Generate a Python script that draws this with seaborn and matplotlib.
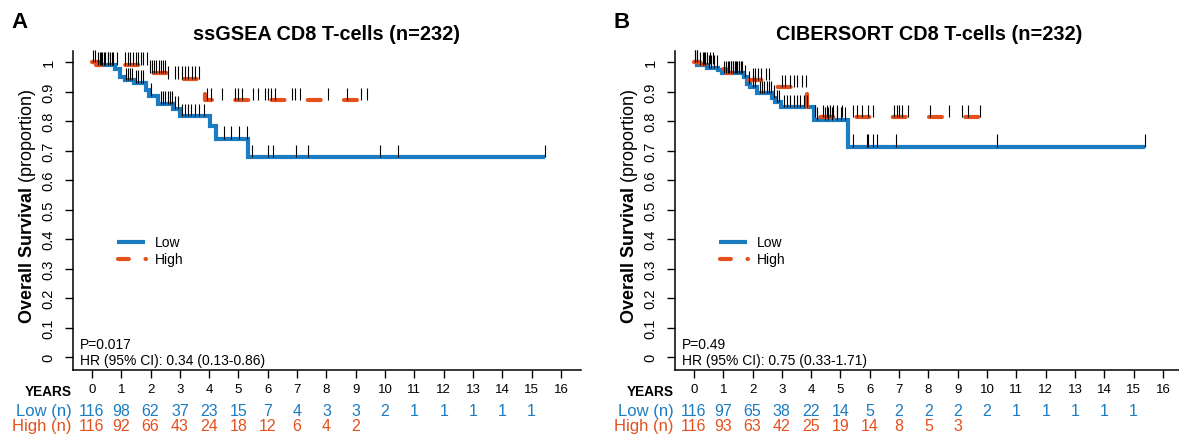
import numpy as np
import pandas as pd
import matplotlib
matplotlib.use("Agg")
import matplotlib.pyplot as plt
import matplotlib.transforms as mtransforms
from matplotlib.lines import Line2D
import seaborn as sns

# ---------------- data ----------------
titles = ["ssGSEA CD8 T-cells (n=232)", "CIBERSORT CD8 T-cells (n=232)"]
panel_labels = ["A", "B"]
p_texts = ["P=0.017", "P=0.49"]
hr_texts = ["HR (95% CI): 0.34 (0.13-0.86)", "HR (95% CI): 0.75 (0.33-1.71)"]
groups = ["Low", "High"]
years = list(range(0, 17))

# Panel A
a_low_time = [0, 0.2, 0.8, 0.97, 1.12, 1.45, 1.83, 1.96, 2.26, 2.77, 3.01, 4.03, 4.22, 5.32, 15.47]
a_low_surv = [1, 0.991, 0.977, 0.951, 0.940, 0.930, 0.907, 0.887, 0.859, 0.842, 0.817, 0.782, 0.741, 0.677, 0.677]
a_high_time = [0, 0.15, 1.92, 2.55, 3.87, 9.37]
a_high_surv = [1, 0.992, 0.964, 0.944, 0.872, 0.872]
a_low_cens = [0.05, 0.12, 0.3, 0.42, 0.55, 0.68,
              1.15, 1.22, 1.3, 1.38, 1.5, 1.58, 1.66, 1.74,
              2.03, 2.35, 2.42, 2.5, 2.58, 2.66, 2.72, 2.85, 2.92,
              3.08, 3.19, 3.28, 3.38, 3.51, 3.66, 3.83,
              4.52, 4.74, 5.03, 5.28,
              5.47, 6.0, 6.18, 6.97, 7.36, 9.83, 10.44, 15.46]
a_high_cens = [0.2, 0.28, 0.35, 0.45, 0.54, 0.62, 0.73, 0.85,
               1.13, 1.22, 1.31, 1.4, 1.49, 1.58, 1.67, 1.75, 1.87,
               1.98, 2.06, 2.13, 2.2, 2.28, 2.35, 2.43, 2.49,
               2.61, 2.83, 2.95, 3.06, 3.18, 3.29, 3.4, 3.52, 3.65,
               3.92, 4.06, 4.45, 4.88, 5.0, 5.11, 5.51, 5.68, 5.91, 5.99, 6.1, 6.25,
               6.82, 6.93, 7.1, 8.07, 8.71, 9.17, 9.37]
a_low_n = [116, 98, 62, 37, 23, 15, 7, 4, 3, 3, 2, 1, 1, 1, 1, 1]
a_high_n = [116, 92, 66, 43, 24, 18, 12, 6, 4, 2]

# Panel B
b_low_time = [0, 0.12, 0.46, 0.83, 0.97, 1.7, 1.82, 1.93, 2.16, 2.67, 2.78, 2.98, 4.08, 5.25, 15.4]
b_low_surv = [1, 0.992, 0.982, 0.974, 0.963, 0.949, 0.927, 0.915, 0.895, 0.879, 0.865, 0.848, 0.805, 0.713, 0.713]
b_high_time = [0, 0.2, 0.85, 1.1, 1.75, 2.6, 3.86, 9.75]
b_high_surv = [1, 0.994, 0.977, 0.963, 0.938, 0.915, 0.814, 0.814]
b_low_cens = [0.05, 0.1, 0.2, 0.3, 0.38, 0.5, 0.6, 0.7, 0.8,
              1.02, 1.1, 1.18, 1.25, 1.32, 1.4, 1.48, 1.55, 1.62,
              1.75, 1.88, 2.0, 2.08,
              2.25, 2.33, 2.4, 2.48, 2.55, 2.62, 2.72, 2.83, 2.9,
              3.06, 3.17, 3.29, 3.4, 3.51, 3.63, 3.74, 3.86,
              4.2, 4.46, 4.59, 4.71, 4.88, 5.02, 5.16,
              5.42, 5.9, 5.95, 6.12, 6.24, 6.89, 10.35, 15.38]
b_high_cens = [0.05, 0.12, 0.35, 0.45, 0.55, 0.65,
               1.15, 1.25, 1.35, 1.45, 1.55, 1.65,
               2.0, 2.1, 2.2, 2.3, 2.45, 2.55,
               3.0, 3.12, 3.29, 3.4, 3.51, 3.69, 3.82,
               4.14, 4.42, 4.54, 4.65, 4.76, 4.88, 5.05, 5.44, 5.56, 5.73, 5.95, 6.12,
               6.83, 6.92, 7.0, 7.11, 7.31, 8.07, 8.71, 9.13, 9.35, 9.75]
b_low_n = [116, 97, 65, 38, 22, 14, 5, 2, 2, 2, 2, 1, 1, 1, 1, 1]
b_high_n = [116, 93, 63, 42, 25, 19, 14, 8, 5, 3]

panels = [
    dict(low_t=a_low_time, low_s=a_low_surv, high_t=a_high_time, high_s=a_high_surv,
         low_c=a_low_cens, high_c=a_high_cens, low_n=a_low_n, high_n=a_high_n),
    dict(low_t=b_low_time, low_s=b_low_surv, high_t=b_high_time, high_s=b_high_surv,
         low_c=b_low_cens, high_c=b_high_cens, low_n=b_low_n, high_n=b_high_n),
]

# ---------------- style ----------------
sns.set_theme(style="ticks")
plt.rcParams['font.family'] = ['Liberation Sans', 'DejaVu Sans']
plt.rcParams['mathtext.fontset'] = 'custom'
plt.rcParams['mathtext.rm'] = 'Liberation Sans'
plt.rcParams['mathtext.bf'] = 'Liberation Sans:bold'
for key in ['text.color', 'axes.labelcolor', 'xtick.color', 'ytick.color', 'axes.edgecolor']:
    plt.rcParams[key] = 'black'

BLUE = "#1b7cc1"
ORANGE = "#e5501c"
LW = 3.0
DASH = (0, (3.1, 5.6))
LEG_DASH = (0, (2.6, 4.0))

W, H = 1179, 439
fig = plt.figure(figsize=(W / 100, H / 100), dpi=100)

ax_left_px = [73, 675]
ax_bottom_px, ax_top_px = 371, 52
ax_w_px = 507.6


def level_at(times, surv, c):
    idx = np.searchsorted(np.asarray(times), np.asarray(c), side="right") - 1
    return np.asarray(surv)[idx]


for k, pdat in enumerate(panels):
    ax = fig.add_axes([ax_left_px[k] / W, (H - ax_bottom_px) / H,
                       ax_w_px / W, (ax_bottom_px - ax_top_px) / H])

    df_low = pd.DataFrame({"time": pdat["low_t"], "surv": pdat["low_s"]})
    df_high = pd.DataFrame({"time": pdat["high_t"], "surv": pdat["high_s"]})
    sns.lineplot(data=df_low, x="time", y="surv", ax=ax, color=BLUE, lw=LW,
                 drawstyle="steps-post", estimator=None, sort=False,
                 solid_capstyle="butt", solid_joinstyle="miter", zorder=3)
    sns.lineplot(data=df_high, x="time", y="surv", ax=ax, color=ORANGE, lw=LW,
                 drawstyle="steps-post", estimator=None, sort=False,
                 linestyle=DASH, dash_capstyle="round", zorder=3)

    # censoring marks
    for tt, ss, cc in [(pdat["low_t"], pdat["low_s"], pdat["low_c"]),
                       (pdat["high_t"], pdat["high_s"], pdat["high_c"])]:
        lv = level_at(tt, ss, cc)
        ax.vlines(cc, lv, lv + 0.042, color="black", lw=0.8, zorder=5, clip_on=False)

    ax.set_xlim(-0.645, 16.67)
    ax.set_ylim(-0.044, 1.038)
    ax.set_xticks(years)
    ax.set_xticklabels([str(y) for y in years])
    yt = np.round(np.arange(0, 1.01, 0.1), 1)
    ax.set_yticks(yt)
    ax.set_yticklabels(["0" if v == 0 else ("1" if v == 1 else f"{v:.1f}") for v in yt])
    ax.set_xlabel("")
    ax.set_ylabel("")
    for sp in ["top", "right"]:
        ax.spines[sp].set_visible(False)
    for sp in ["left", "bottom"]:
        ax.spines[sp].set_linewidth(1.1)
        ax.spines[sp].set_color("black")
    ax.tick_params(axis="both", direction="out", length=6, width=1.0, color="black",
                   bottom=True, left=True, labelcolor="black")
    ax.tick_params(axis="x", labelsize=9.5, pad=3.5)
    ax.tick_params(axis="y", labelsize=10.5, pad=6.5, labelrotation=90)
    for lab in ax.get_yticklabels():
        lab.set_va("center")

    # y label with bold part
    ax.text(-0.0887, 0.517, r"$\mathbf{Overall\ Survival}$ (proportion)", transform=ax.transAxes,
            rotation=90, ha="center", va="center", fontsize=13)

    # title & panel letter
    ax.text(0.5, 1.056, titles[k], transform=ax.transAxes, ha="center", va="center",
            fontsize=14.3, fontweight="bold")
    fig.text((19.5 + 602 * k) / W, (H - 22) / H, panel_labels[k], ha="center", va="center",
             fontsize=16, fontweight="bold")

    # legend (manual)
    fx = lambda px: (px - 73) / ax_w_px
    fy = lambda py: (ax_bottom_px - py) / (ax_bottom_px - ax_top_px)
    ax.add_line(Line2D([fx(117), fx(145)], [fy(243.3)] * 2, transform=ax.transAxes,
                       color=BLUE, lw=LW, solid_capstyle="butt"))
    ax.add_line(Line2D([fx(118), fx(146)], [fy(260)] * 2, transform=ax.transAxes,
                       color=ORANGE, lw=LW, linestyle=LEG_DASH, dash_capstyle="round"))
    ax.text(fx(155), fy(243.3), groups[0], transform=ax.transAxes, ha="left", va="center", fontsize=10)
    ax.text(fx(155), fy(260), groups[1], transform=ax.transAxes, ha="left", va="center", fontsize=10)

    # stats text
    ax.text(fx(80), fy(345), p_texts[k], transform=ax.transAxes, ha="left", va="center", fontsize=10)
    ax.text(fx(80), fy(361), hr_texts[k], transform=ax.transAxes, ha="left", va="center", fontsize=10)

    # risk table
    blend = mtransforms.blended_transform_factory(ax.transData, fig.transFigure)
    ax.text(-0.69, (H - 392) / H, "YEARS", transform=blend, ha="right", va="center",
            fontsize=9.8, fontweight="bold")
    ax.text(-0.69, (H - 411.5) / H, "Low (n)", transform=blend, ha="right", va="center",
            fontsize=12, color=BLUE)
    ax.text(-0.69, (H - 426.5) / H, "High (n)", transform=blend, ha="right", va="center",
            fontsize=12, color=ORANGE)
    for i, n in enumerate(pdat["low_n"]):
        ax.text(years[i], (H - 411.5) / H, str(n), transform=blend, ha="center", va="center",
                fontsize=11.5, color=BLUE)
    for i, n in enumerate(pdat["high_n"]):
        ax.text(years[i], (H - 426.5) / H, str(n), transform=blend, ha="center", va="center",
                fontsize=11.5, color=ORANGE)

fig.savefig("out.png", dpi=100)
